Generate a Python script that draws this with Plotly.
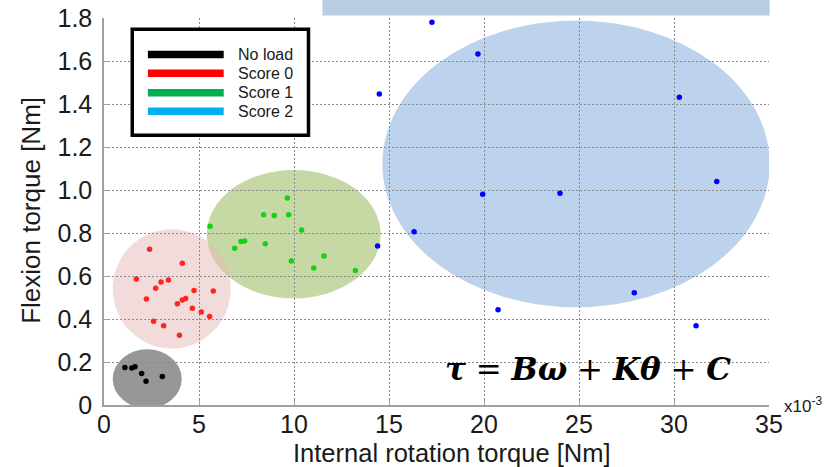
import plotly.graph_objects as go

# ---------------- data (internal rotation torque in x10^-3 Nm, flexion torque in Nm)
noload_x = [1.10, 1.46, 1.63, 1.98, 2.21, 3.07]
noload_y = [0.175, 0.172, 0.178, 0.147, 0.110, 0.133]

score0_x = [2.40, 4.12, 1.70, 3.39, 3.00, 2.72, 4.74, 5.75, 2.23, 4.30, 4.12, 3.86,
            4.65, 5.12, 5.56, 2.61, 3.14, 3.97]
score0_y = [0.724, 0.659, 0.586, 0.581, 0.572, 0.543, 0.533, 0.530, 0.493, 0.495, 0.488,
            0.471, 0.450, 0.433, 0.412, 0.389, 0.369, 0.324]

score1_x = [5.58, 9.65, 8.40, 8.96, 9.72, 10.40, 7.40, 7.21, 8.49, 6.88, 11.58, 9.86,
            11.04, 13.23]
score1_y = [0.831, 0.963, 0.885, 0.881, 0.885, 0.814, 0.763, 0.760, 0.750, 0.729, 0.693,
            0.670, 0.637, 0.626]

score2_x = [17.26, 24.63, 19.68, 14.49, 30.28, 32.25, 19.93, 24.00, 16.32, 14.40, 27.91,
            20.74, 31.16]
score2_y = [1.780, 1.803, 1.633, 1.447, 1.431, 1.039, 0.980, 0.985, 0.806, 0.740, 0.522,
            0.443, 0.369]

# cluster regions (ellipse bounds in data units)
region_names = ["No load", "Score 0", "Score 1", "Score 2"]
region_x0 = [0.46, 0.46, 5.41, 14.65]
region_x1 = [4.09, 6.67, 14.56, 35.04]
region_y0 = [-0.016, 0.263, 0.496, 0.455]
region_y1 = [0.259, 0.818, 1.093, 1.788]

x_tickvals = [0, 5, 10, 15, 20, 25, 30, 35]
x_ticktext = ["0", "5", "10", "15", "20", "25", "30", "35"]
y_tickvals = [0, 0.2, 0.4, 0.6, 0.8, 1.0, 1.2, 1.4, 1.6, 1.8]
y_ticktext = ["0", "0.2", "0.4", "0.6", "0.8", "1.0", "1.2", "1.4", "1.6", "1.8"]

legend_labels = ["No load", "Score 0", "Score 1", "Score 2"]

# ---------------- styles
marker_colors = ["#000000", "#ff2424", "#14d214", "#0000ff"]
legend_colors = ["#000000", "#ff0000", "#00b050", "#00b0f0"]
region_fill = ["rgb(125,125,125)", "rgb(229,185,183)", "rgb(157,187,97)", "rgb(145,180,223)"]
region_opacity = [0.8, 0.5, 0.58, 0.6]

FONT = "Liberation Sans, Arial, sans-serif"

fig = go.Figure()

series = [(noload_x, noload_y), (score0_x, score0_y), (score1_x, score1_y), (score2_x, score2_y)]
for (xs, ys), name, col in zip(series, legend_labels, marker_colors):
    fig.add_trace(go.Scatter(x=xs, y=ys, mode="markers", name=name, showlegend=False,
                             cliponaxis=False, hoverinfo="skip",
                             marker=dict(color=col, size=5.5, line=dict(width=0))))

shapes = []
# ellipses: draw order gray, green, pink (pink over green), blue
for i in [0, 2, 1, 3]:
    shapes.append(dict(type="circle", xref="x", yref="y", layer="below",
                       x0=region_x0[i], x1=region_x1[i], y0=region_y0[i], y1=region_y1[i],
                       fillcolor=region_fill[i], opacity=region_opacity[i],
                       line=dict(width=0)))

# top banner strip
shapes.append(dict(type="rect", xref="paper", yref="paper", layer="above",
                   x0=0.3285, x1=1.001, y0=1.0065, y1=1.07,
                   fillcolor="#b8cce4", line=dict(width=0)))

# custom legend box
shapes.append(dict(type="rect", xref="paper", yref="paper", layer="above",
                   x0=0.0425, x1=0.3075, y0=0.697, y1=0.971,
                   fillcolor="white", line=dict(color="black", width=3.5)))
row_y = [0.906, 0.857, 0.807, 0.759]
annotations = []
for lab, col, yy in zip(legend_labels, legend_colors, row_y):
    shapes.append(dict(type="line", xref="paper", yref="paper", layer="above",
                       x0=0.066, x1=0.180, y0=yy, y1=yy,
                       line=dict(color=col, width=7.5)))
    annotations.append(dict(xref="paper", yref="paper", x=0.198, y=yy, text=lab,
                            showarrow=False, xanchor="left", yanchor="middle",
                            font=dict(family=FONT, size=16, color="#1a1a1a")))

# axis titles
annotations.append(dict(xref="paper", yref="paper", x=0.523, y=-0.125,
                        text="Internal rotation torque [Nm]", showarrow=False,
                        xanchor="center", yanchor="middle", borderpad=0,
                        font=dict(family=FONT, size=25.5, color="#1a1a1a")))
annotations.append(dict(xref="paper", yref="paper", x=-0.109, y=0.503,
                        text="Flexion torque [Nm]", showarrow=False, textangle=-90,
                        xanchor="center", yanchor="middle",
                        font=dict(family=FONT, size=26, color="#1a1a1a")))
# exponent label
annotations.append(dict(xref="paper", yref="paper", x=1.019, y=0.0,
                        text="x10<sup>-3</sup>", showarrow=False,
                        xanchor="left", yanchor="middle",
                        font=dict(family=FONT, size=17, color="#1a1a1a")))
# equation
eq = ("<b><i>\u03c4</i></b>\u00a0=\u00a0<b><i>B\u03c9</i></b>\u00a0+\u00a0"
      "<b><i>K\u03b8</i></b>\u00a0+\u00a0<b><i>C</i></b>")
annotations.append(dict(xref="paper", yref="paper", x=0.728, y=0.092, text=eq,
                        showarrow=False, xanchor="center", yanchor="middle",
                        font=dict(family="DejaVu Serif, serif", size=31, color="black")))

axis_common = dict(showgrid=True, gridcolor="#8a8a8a", griddash="2px,2px", gridwidth=1,
                   zeroline=False, showline=True, linecolor="#a0a0a0", linewidth=1.5,
                   ticks="inside", ticklen=5, tickcolor="#a0a0a0", automargin=False,
                   tickfont=dict(family=FONT, size=25, color="#1a1a1a"))

fig.update_layout(
    width=840, height=467,
    margin=dict(l=104, r=71, t=18, b=62, autoexpand=False),
    paper_bgcolor="white", plot_bgcolor="white",
    showlegend=False,
    xaxis=dict(range=[0, 35], tickvals=x_tickvals, ticktext=x_ticktext,
               ticklabelstandoff=-4, **axis_common),
    yaxis=dict(range=[0, 1.8], tickvals=y_tickvals, ticktext=y_ticktext,
               ticklabelstandoff=5, **axis_common),
    shapes=shapes,
    annotations=annotations,
)

fig.write_html("out.html", config={"displayModeBar": False},
               post_script="document.body.style.margin='0';document.body.style.padding='0';")
